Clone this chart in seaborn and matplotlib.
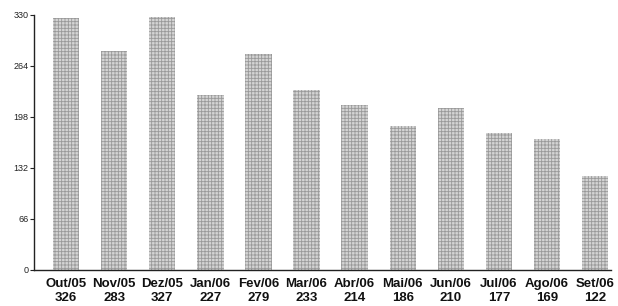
import matplotlib
matplotlib.use("Agg")
import matplotlib.pyplot as plt
import pandas as pd
import seaborn as sns

# dados
meses = ["Out/05", "Nov/05", "Dez/05", "Jan/06", "Fev/06", "Mar/06",
         "Abr/06", "Mai/06", "Jun/06", "Jul/06", "Ago/06", "Set/06"]
valores = [326, 283, 327, 227, 279, 233, 214, 186, 210, 177, 169, 122]
yticks = [0, 66, 132, 198, 264, 330]

df = pd.DataFrame({"mes": meses, "valor": valores})
df["rotulo"] = [f"{m}\n{v}" for m, v in zip(meses, valores)]

sns.set_style("white")
plt.rcParams["font.family"] = ["Liberation Sans", "DejaVu Sans"]
plt.rcParams["hatch.linewidth"] = 0.6

fig = plt.figure(figsize=(6.18, 3.06), dpi=100)
ax = fig.add_axes([0.055, 0.118, 0.933, 0.833])

sns.barplot(data=df, x="rotulo", y="valor", color="#d4d4d4", width=0.55,
            ax=ax, saturation=1, hatch="+++++", edgecolor="#999999", linewidth=0)

ax.set_xlim(-0.666, 11.32)
ax.set_ylim(0, 330)
ax.set_yticks(yticks)
ax.set_xlabel("")
ax.set_ylabel("")
sns.despine(ax=ax)
for s in ["left", "bottom"]:
    ax.spines[s].set_color("#222222")
    ax.spines[s].set_linewidth(1.0)

ax.tick_params(axis="y", left=True, length=3, width=0.8, labelsize=6.5,
               pad=1, colors="#222222")
ax.tick_params(axis="x", bottom=False, labelsize=9.5, pad=2, colors="#111111")
for t in ax.get_xticklabels():
    t.set_fontweight("bold")
    t.set_linespacing(1.3)

fig.savefig("out.png", dpi=100)
